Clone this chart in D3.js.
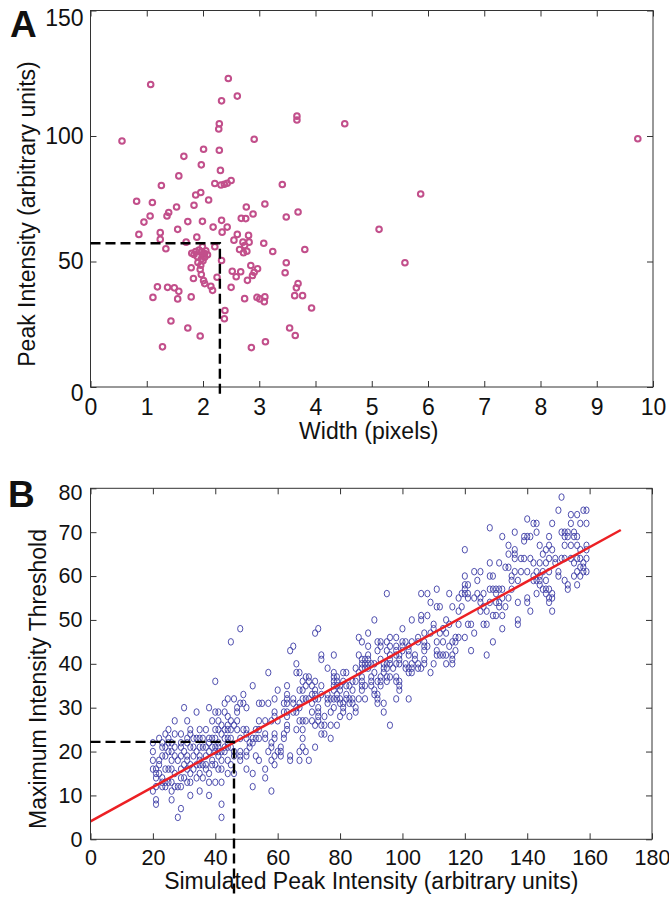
<!doctype html>
<html>
<head>
<meta charset="utf-8">
<script src="https://cdn.jsdelivr.net/npm/d3@7"></script>
<style>
body { margin: 0; background: #fff; }
svg text { font-family: "Liberation Sans", Arial, sans-serif; fill: #111; }
.tick line { stroke: #333; }
</style>
</head>
<body>
<svg width="669" height="897"></svg>
<script>
// ---- panel A : width vs peak intensity ----
var pointsA = [
 [1.07,120.5],[2.45,122.9],[2.61,115.9],[2.33,114.0],[3.67,107.9],[3.67,106.4],[2.29,104.9],[2.28,102.8],
 [0.56,98.0],[2.91,98.7],[2.01,94.7],[2.29,94.3],[1.66,91.9],[1.97,88.5],[2.31,86.3],[1.57,84.1],
 [1.26,80.3],[2.21,81.1],[2.32,80.5],[2.38,80.8],[2.43,81.2],[2.50,82.3],[3.41,80.7],[1.87,76.5],
 [1.96,77.5],[0.82,74.0],[1.10,73.5],[2.10,74.5],[1.84,72.4],[1.53,71.7],[2.77,71.7],[3.10,72.9],
 [3.69,69.7],[1.06,68.1],[0.95,65.7],[1.39,69.5],[1.36,68.1],[1.73,65.9],[1.99,66.0],[1.55,62.8],
 [2.33,66.4],[2.18,63.7],[2.43,63.7],[2.34,61.7],[2.68,67.2],[2.76,67.1],[2.89,68.9],[3.48,67.7],
 [0.86,60.8],[1.24,61.5],[1.24,58.8],[1.34,55.1],[1.70,57.7],[1.89,59.7],[2.21,55.9],[2.61,60.8],
 [2.55,58.5],[2.81,60.4],[2.82,57.7],[2.71,57.7],[2.74,56.4],[2.65,54.8],[2.78,54.1],[2.72,53.5],
 [3.08,57.3],[3.24,54.0],[3.81,54.8],[3.48,49.5],[3.46,45.5],[3.69,41.2],[3.66,39.5],[3.63,36.4],
 [3.77,36.4],[3.93,31.5],[3.54,23.5],[3.64,20.5],[3.11,18.0],[2.86,15.7],[1.95,20.3],[1.73,23.5],
 [1.43,26.3],[1.28,16.0],[2.39,30.5],[2.38,27.2],[1.11,35.7],[1.19,39.9],[1.37,39.7],[1.49,39.5],
 [1.57,38.1],[1.55,35.1],[1.79,35.9],[2.74,35.2],[2.96,35.7],[3.01,35.1],[3.10,35.9],[3.09,34.0],
 [2.50,39.7],[2.14,40.1],[2.17,38.5],[2.01,42.4],[2.03,41.2],[2.25,43.7],[1.83,43.2],[1.79,47.5],
 [1.95,46.8],[1.97,44.8],[2.33,50.4],[2.52,46.1],[2.59,43.9],[2.67,45.9],[2.85,48.4],[2.97,47.1],
 [2.91,45.7],[2.88,44.4],[2.79,42.5],
 [1.80,53.3],[1.87,54.0],[1.93,54.6],[1.98,53.9],[2.03,53.2],[2.08,52.7],[1.90,51.9],[1.97,51.0],
 [2.03,51.7],[1.84,52.8],[1.99,55.9],[2.05,54.3],[1.91,49.6],[1.96,48.5],[2.00,50.3],
 [4.52,104.9],[9.73,98.9],[5.87,76.9],[5.13,62.8],[5.59,49.5]
];
var ticksAx = [0,1,2,3,4,5,6,7,8,9,10];
var ticksAy = [0,50,100,150];
var guideA = [2.3, 57.3];   // width, intensity of the dashed cross

// ---- panel B : simulated peak vs threshold, one row per threshold value ----
var rowsB = [
 [78,[151]],
 [75,[150,158,159]],
 [74,[154,156]],
 [73,[140]],
 [72,[142,143,148,154,157,159]],
 [71,[128]],
 [70,[136,143,151,152,153,155]],
 [69,[132,139,140,141,147,152,153,155,156]],
 [68,[139]],
 [67,[134,144,147,152,154,156,159]],
 [66,[120,136,146,148,157,159]],
 [65,[134,136,145]],
 [64,[136,138,139,141,147,149,151,152,154,156,157,159]],
 [63,[128,131,142,144,146,149,155,158]],
 [62,[133,134,157,158]],
 [61,[123,125,136,138,140,143,145,147,150,156,158,159]],
 [60,[120,128,129,135,142,144,150,155,157]],
 [59,[124,135,137,142,143,144,146,152]],
 [58,[120,121,144,153,156]],
 [57,[111,120,128,129,130,131,132,135,145,146,147,153]],
 [56,[95,106,108,115,119,120,121,124,126,130,143,146,148]],
 [55,[118,121,123,125,132,134,140,147,148]],
 [54,[109,125,128,130,131,137,140,147]],
 [53,[111,112,116,119,126,131,133]],
 [52,[118,125,127,141,148]],
 [51,[106,108,129,130,132]],
 [50,[91,103,106,114,137]],
 [49,[110,115,118,121,122,126,127,137]],
 [48,[48,73,100,110,113,132]],
 [47,[72,89,107,109,112,114,123]],
 [46,[86,96,98,105,117,118,120]],
 [45,[45,87,92,93,95,100,101,103,105,107,111,113,116,117,129]],
 [44,[65,89,93,96,98,100,102,107,108,115]],
 [43,[64,92,95,98,100,102,107,111,117,122]],
 [42,[74,78,86,89,96,98,99,102,104,111,112,113,114,116,127]],
 [41,[74,87,88,89,93,96,99,104,107,116]],
 [40,[66,87,88,89,90,91,94,95,96,98,99,101,103,105,107,110,114,116]],
 [39,[76,85,87,88,89,94,95,97,101,102,103,105,106]],
 [38,[57,66,67,78,81,82,86,91,94,102,103,109]],
 [37,[69,70,78,79,87,90,93,95,96,98]],
 [36,[40,68,70,72,78,79,81,84,85,87,90,92,93,95,98,99]],
 [35,[52,63,69,71,74,78,79,80,82,83,87,88,90,93,99]],
 [34,[60,67,68,72,78,80,84,87,91,99]],
 [33,[49,63,71,72,74,76,79,82,91,92]],
 [32,[44,46,59,63,65,68,69,70,72,73,76,77,78,79,80,82,83,84,86,88,92,98,102]],
 [31,[43,48,49,54,55,57,62,63,65,67,71,76,80,81,83,84,92,94]],
 [30,[30,38,47,50,66,67,73,78,81,85]],
 [29,[34,40,41,43,47,59,62,63,65,66,71,73,77,81,85,94]],
 [28,[44,59,63,73,75,80,83]],
 [27,[27,31,39,41,45,47,54,56,58,60,67,68,69,71,73]],
 [26,[42,44,46,63,72,74,75,77,79,96]],
 [25,[25,32,35,37,40,41,43,44,45,47,49,50,53,54,63,66,68]],
 [24,[24,27,29,32,42,50,56,59,62,74,75]],
 [23,[22,25,31,33,34,35,36,38,39,40,43,44,45,48,50,52,53,54,56,59,62,68,77]],
 [22,[20,23,25,26,29,31,38,41,44,51,52,58]],
 [21,[23,24,27,29,32,33,35,36,37,39,40,41,43,44,45,51,58,61,68,72]],
 [20,[20,25,26,30,34,38,40,41,42,43,46,48,50,57,60,61,67,69]],
 [19,[23,24,27,29,31,33,35,37,41,46,48,50,53,59,61,64]],
 [18,[20,22,26,28,31,35,39,42,44,48,54,58,64,67,70]],
 [17,[22,30,32,34,35,36,37,39,40,45,59]],
 [16,[20,21,24,25,26,29,31,33,37,41,42,50,56]],
 [15,[21,22,27,32,35,38,44,46,52]],
 [14,[21,23,29,30,34,36,56]],
 [13,[23,24,25,26,31,32,38,40,42]],
 [12,[21,23,24,27,28,29,52]],
 [11,[20,26,35,58]],
 [10,[32,38]],
 [9,[21,26]],
 [8,[21,42]],
 [7,[29]],
 [5,[28,42]]
];
var ticksBx = [0,20,40,60,80,100,120,140,160,180];
var ticksBy = [0,10,20,30,40,50,60,70,80];
var fitX = [0, 170];
var fitY = [4.1, 70.5];
var guideB = [46, 22.2];

var pointsB = [];
rowsB.forEach(function(r) { r[1].forEach(function(v) { pointsB.push([v, r[0]]); }); });

var svg = d3.select("svg").style("background-color", "#fff");

function frame(x, y, tx, ty, fs, padX, padY) {
    var g = svg.append("g");
    var x0 = x.range()[0], x1 = x.range()[1], y0 = y.range()[0], y1 = y.range()[1];
    g.append("g").attr("transform", "translate(0," + y0 + ")")
        .call(d3.axisBottom(x).tickValues(tx).tickSizeInner(-6).tickSizeOuter(0).tickPadding(padX));
    g.append("g").attr("transform", "translate(0," + y1 + ")")
        .call(d3.axisTop(x).tickValues(tx).tickSizeInner(-6).tickSizeOuter(0).tickFormat(""));
    g.append("g").attr("class", "yleft").attr("transform", "translate(" + x0 + ",0)")
        .call(d3.axisLeft(y).tickValues(ty).tickSizeInner(-6).tickSizeOuter(0).tickPadding(padY));
    g.append("g").attr("transform", "translate(" + x1 + ",0)")
        .call(d3.axisRight(y).tickValues(ty).tickSizeInner(-6).tickSizeOuter(0).tickFormat(""));
    g.selectAll(".domain").remove();
    g.selectAll(".tick text").style("font-size", fs + "px").style("fill", "#111")
        .style("font-family", "'Liberation Sans', Arial, sans-serif");
    g.append("rect").attr("x", x0).attr("y", y1).attr("width", x1 - x0).attr("height", y0 - y1)
        .attr("fill", "none").attr("stroke", "#333").attr("stroke-width", 1);
    return g;
}

// ---------- panel A ----------
var xA = d3.scaleLinear().domain([0, 10]).range([90.5, 653]);
var yA = d3.scaleLinear().domain([0, 150]).range([387, 10.5]);

svg.append("g").selectAll("circle")
    .data(pointsA).enter().append("circle")
    .attr("cx", function(d) { return xA(d[0]); })
    .attr("cy", function(d) { return yA(d[1]); })
    .attr("r", 2.8)
    .attr("fill", "none")
    .attr("stroke", "#c24f8b")
    .attr("stroke-width", 2);

var fA = frame(xA, yA, ticksAx, ticksAy, 23, 12, 7);
// end labels sit a little inside the frame, as in the original
fA.select(".yleft").selectAll(".tick text")
    .attr("transform", function(d) { return d === 150 ? "translate(0,8)" : d === 0 ? "translate(0,6)" : null; });

svg.append("path")
    .attr("d", "M" + xA(0) + "," + yA(guideA[1]) + "H" + xA(guideA[0]) + "V" + (yA(0) + 8))
    .attr("fill", "none").attr("stroke", "#000").attr("stroke-width", 2.4)
    .attr("stroke-dasharray", "10,5");

svg.append("text").attr("x", xA(5) - 3).attr("y", 439)
    .attr("text-anchor", "middle").style("font-size", "23px").text("Width (pixels)");
svg.append("text").attr("transform", "translate(35,214) rotate(-90)")
    .attr("text-anchor", "middle").style("font-size", "23px").text("Peak Intensity (arbitrary units)");
svg.append("text").attr("x", 10).attr("y", 37)
    .style("font-size", "37px").style("font-weight", "bold").text("A");

// ---------- panel B ----------
var xB = d3.scaleLinear().domain([0, 180]).range([90.5, 652]);
var yB = d3.scaleLinear().domain([0, 80]).range([839.3, 488.3]);

svg.append("g").selectAll("ellipse")
    .data(pointsB).enter().append("ellipse")
    .attr("cx", function(d) { return xB(d[0]); })
    .attr("cy", function(d) { return yB(d[1]); })
    .attr("rx", 2.6)
    .attr("ry", 3.3)
    .attr("fill", "none")
    .attr("stroke", "#4646aa")
    .attr("stroke-width", 0.95);

svg.append("line")
    .attr("x1", xB(fitX[0])).attr("y1", yB(fitY[0]))
    .attr("x2", xB(fitX[1])).attr("y2", yB(fitY[1]))
    .attr("stroke", "#ec2024").attr("stroke-width", 2.5);

var fB = frame(xB, yB, ticksBx, ticksBy, 21.5, 10, 8);
fB.select(".yleft").selectAll(".tick text")
    .attr("transform", function(d) { return d === 80 ? "translate(0,4)" : null; });

svg.append("path")
    .attr("d", "M" + xB(0) + "," + yB(guideB[1]) + "H" + xB(guideB[0]) + "V897")
    .attr("fill", "none").attr("stroke", "#000").attr("stroke-width", 2.4)
    .attr("stroke-dasharray", "10,5");

svg.append("text").attr("x", xB(90)).attr("y", 889)
    .attr("text-anchor", "middle").style("font-size", "23px").text("Simulated Peak Intensity (arbitrary units)");
svg.append("text").attr("transform", "translate(46,679) rotate(-90)")
    .attr("text-anchor", "middle").style("font-size", "23px").text("Maximum Intensity Threshold");
svg.append("text").attr("x", 8).attr("y", 507)
    .style("font-size", "37px").style("font-weight", "bold").text("B");
</script>
</body>
</html>
